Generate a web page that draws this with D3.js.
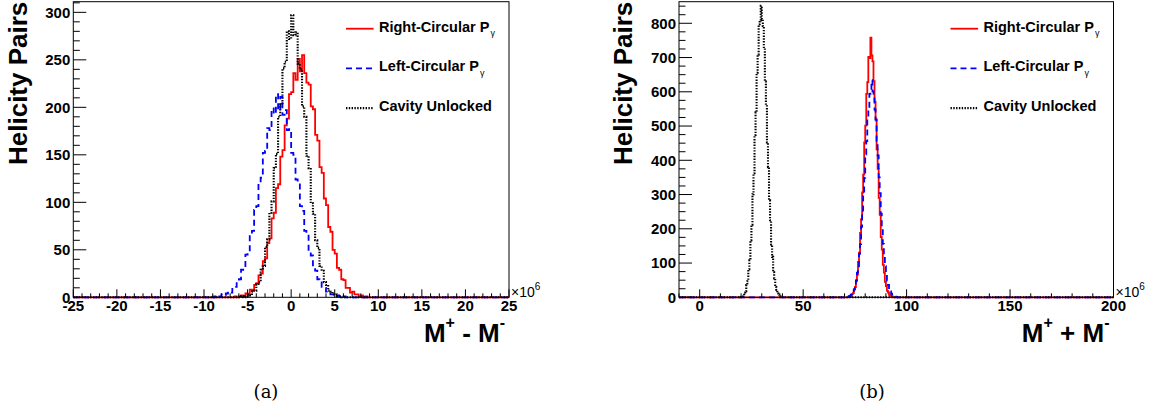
<!DOCTYPE html>
<html>
<head>
<meta charset="utf-8">
<script src="https://cdn.jsdelivr.net/npm/d3@7"></script>
<style>
  body { margin: 0; background: #fff; }
  svg text { font-family: "Liberation Sans", Arial, Helvetica, sans-serif; }
</style>
</head>
<body>
<div class="viewbox"></div>
<script>
const svg_width = 1160;
const svg_height = 412;

// (a) M+ - M-  : bins of 0.25 (x10^6) starting at -10
const diffStart = -10;
const diffBin = 0.25;
const diffRight = [0,0,0,0,0,0,0,0,0,0, 0,0,0,0,1,0,1,2,1,4,
  3,8,7,13,15,23,25,38,41,57, 62,83,89,115,119,148,155,181,188,214,
  216,236,229,251,238,255,236,226,224,201, 198,171,165,137,131,104,97,74,69,50,
  46,31,29,19,18,10,10,5,6,3, 3,1,2,0,1,0,0,0,0,0];
const diffLeft = [0,0,0,1,0,1,0,1,3,2, 4,6,5,10,11,17,19,29,31,45,
  48,66,70,92,96,121,126,152,154,178, 176,199,193,214,197,211,192,197,176,177,
  152,150,124,120,96,91,70,65,48,44, 31,28,19,17,11,10,6,5,3,3,
  1,2,1,0,1,0,0,0,0,0, 0,0,0,0,0,0,0,0,0,0];
const diffUnlocked = [0,0,0,0,0,0,0,0,0,0, 0,0,0,0,0,0,0,1,0,1,
  3,2,6,7,14,16,29,33,53,61, 89,101,136,151,190,203,241,248,280,272,
  297,276,279,246,240,201,190,149,136,99, 88,60,52,33,28,16,13,7,6,3,
  3,1,1,0,0,0,0,0,0,0, 0,0,0,0,0,0,0,0,0,0];

// (b) M+ + M-  : bins of 0.5 (x10^6)
const sumBin = 0.5;
const sumRightStart = 72;
const sumRight = [1,3,4,9,12,23,30,50,66,103, 130,188,228,306,358,452,501,594,628,702,
  698,758,706,689,631,571,520,432,375,290, 241,176,139,95,72,45,33,19,14,7, 5,2,2,0];
const sumLeftStart = 71;
const sumLeft = [1,1,3,4,8,10,18,23,37,48, 72,90,127,155,206,243,306,349,417,456,
  520,546,594,598,634,601,589,548,518,457, 414,350,304,244,204,156,125,91,70,49,
  36,24,17,11,7,4,3,2,1];
const sumUnlockedStart = 20;
const sumUnlocked = [1,3,5,14,18,36,47,82,108,167, 212,301,362,474,540,656,708,797,808,851,
  812,792,727,630,561,452,380,283,225,154, 118,73,55,30,22,11,8,3,2,0];

const legendLabels = ["Right-Circular P", "Left-Circular P", "Cavity Unlocked"];
const diffXTicks = [-25, -20, -15, -10, -5, 0, 5, 10, 15, 20, 25];
const diffYTicks = [0, 50, 100, 150, 200, 250, 300];
const sumXTicks = [0, 50, 100, 150, 200];
const sumYTicks = [0, 100, 200, 300, 400, 500, 600, 700, 800];

const styles = [
  { color: "#ff0000", dash: null, width: 1.8 },
  { color: "#0000ff", dash: "6,4", width: 1.8 },
  { color: "#000000", dash: "1.4,1.4", width: 2.1 }
];

const panels = [
  {
    left: 73.3, right: 509, top: 1.7, bottom: 297.3,
    xDomain: [-25, 25], yMax: 311.2,
    xTicks: diffXTicks, xMinor: 1, yTicks: diffYTicks, yMinor: 10,
    series: [
      { start: diffStart, bin: diffBin, counts: diffRight },
      { start: diffStart, bin: diffBin, counts: diffLeft },
      { start: diffStart, bin: diffBin, counts: diffUnlocked }
    ],
    title: ["M", "+", " - M", "-"], caption: "(a)", captionX: 266
  },
  {
    left: 679, right: 1113.5, top: 1.7, bottom: 297.3,
    xDomain: [-10, 200], yMax: 863,
    xTicks: sumXTicks, xMinor: 10, yTicks: sumYTicks, yMinor: 25,
    series: [
      { start: sumRightStart, bin: sumBin, counts: sumRight },
      { start: sumLeftStart, bin: sumBin, counts: sumLeft },
      { start: sumUnlockedStart, bin: sumBin, counts: sumUnlocked }
    ],
    title: ["M", "+", " + M", "-"], caption: "(b)", captionX: 872
  }
];

let svg = d3.select(".viewbox")
  .append("svg")
  .attr("width", svg_width)
  .attr("height", svg_height)
  .style("display", "block");

svg.append("rect").attr("width", svg_width).attr("height", svg_height).attr("fill", "#fff");

panels.forEach(p => drawPanel(p));

function drawPanel(p) {
  let x = d3.scaleLinear().domain(p.xDomain).range([p.left, p.right]);
  let y = d3.scaleLinear().domain([0, p.yMax]).range([p.bottom, p.top]);
  let g = svg.append("g");

  // histograms (step lines, zero outside the filled bins)
  let line = d3.line()
    .x(d => x(d[0]))
    .y(d => y(d[1]))
    .curve(d3.curveStepAfter);

  p.series.forEach((s, i) => {
    let pts = [[p.xDomain[0], 0]];
    s.counts.forEach((c, k) => pts.push([s.start + k * s.bin, c]));
    pts.push([s.start + s.counts.length * s.bin, 0]);
    pts.push([p.xDomain[1], 0]);
    g.append("path")
      .attr("d", line(pts))
      .attr("fill", "none")
      .attr("stroke", styles[i].color)
      .attr("stroke-width", styles[i].width)
      .attr("stroke-dasharray", styles[i].dash);
  });

  // frame
  g.append("rect")
    .attr("x", p.left).attr("y", p.top)
    .attr("width", p.right - p.left).attr("height", p.bottom - p.top)
    .attr("fill", "none").attr("stroke", "#000").attr("stroke-width", 1);

  // x ticks (inside, pointing up)
  let xMinor = d3.range(p.xDomain[0], p.xDomain[1] + 1e-9, p.xMinor);
  g.selectAll(null).data(xMinor).enter().append("line")
    .attr("x1", d => x(d)).attr("x2", d => x(d))
    .attr("y1", p.bottom).attr("y2", d => p.bottom - (p.xTicks.includes(d) ? 8 : 4))
    .attr("stroke", "#000").attr("stroke-width", 1);
  g.selectAll(null).data(p.xTicks).enter().append("text")
    .attr("x", d => x(d)).attr("y", 311)
    .attr("text-anchor", "middle")
    .attr("font-size", 15).attr("font-weight", "bold")
    .text(d => d);

  // y ticks (inside, pointing right)
  let yMinor = d3.range(0, p.yMax, p.yMinor);
  g.selectAll(null).data(yMinor).enter().append("line")
    .attr("y1", d => y(d)).attr("y2", d => y(d))
    .attr("x1", p.left).attr("x2", d => p.left + (p.yTicks.includes(d) ? 13 : 6.5))
    .attr("stroke", "#000").attr("stroke-width", 1);
  g.selectAll(null).data(p.yTicks).enter().append("text")
    .attr("x", p.left - 3).attr("y", d => y(d) + 5.3)
    .attr("text-anchor", "end")
    .attr("font-size", 15).attr("font-weight", "bold")
    .text(d => d);

  // x10^6
  let exp = g.append("text")
    .attr("x", p.right + 2).attr("y", p.bottom)
    .attr("font-size", 14);
  exp.append("tspan").text("\u00d710");
  exp.append("tspan").attr("font-size", 10).attr("dy", -7).text("6");

  // axis titles
  g.append("text")
    .attr("transform", `translate(${p.left - 46.6},${p.top}) rotate(-90)`)
    .attr("text-anchor", "end")
    .attr("font-size", 26).attr("font-weight", "bold")
    .text("Helicity Pairs");

  let t = g.append("text")
    .attr("x", p.right - 4).attr("y", 342)
    .attr("text-anchor", "end")
    .attr("font-size", 26).attr("font-weight", "bold");
  t.append("tspan").text(p.title[0]);
  t.append("tspan").attr("font-size", 16).attr("dy", -14).text(p.title[1]);
  t.append("tspan").attr("dy", 14).text(p.title[2]);
  t.append("tspan").attr("font-size", 16).attr("dy", -14).text(p.title[3]);

  // legend
  let lx = p.right - 163;
  legendLabels.forEach((label, i) => {
    let by = 31.7 + i * 39.7;
    g.append("line")
      .attr("x1", lx).attr("x2", lx + 27.6)
      .attr("y1", by - 3).attr("y2", by - 3)
      .attr("stroke", styles[i].color)
      .attr("stroke-width", styles[i].width)
      .attr("stroke-dasharray", styles[i].dash);
    let lt = g.append("text")
      .attr("x", p.right - 130).attr("y", by)
      .attr("font-size", 14.5).attr("font-weight", "bold");
    lt.append("tspan").text(label);
    if (i < 2) {
      lt.append("tspan").attr("font-size", 9).attr("font-weight", "normal")
        .attr("dx", 1).attr("dy", 4.5).text("\u03b3");
    }
  });

  // sub-figure caption (serif, like the LaTeX document)
  svg.append("text")
    .attr("x", p.captionX).attr("y", 398)
    .attr("text-anchor", "middle")
    .style("font-family", "'DejaVu Serif', 'Liberation Serif', serif")
    .attr("font-size", 18)
    .text(p.caption);
}
</script>
</body>
</html>
